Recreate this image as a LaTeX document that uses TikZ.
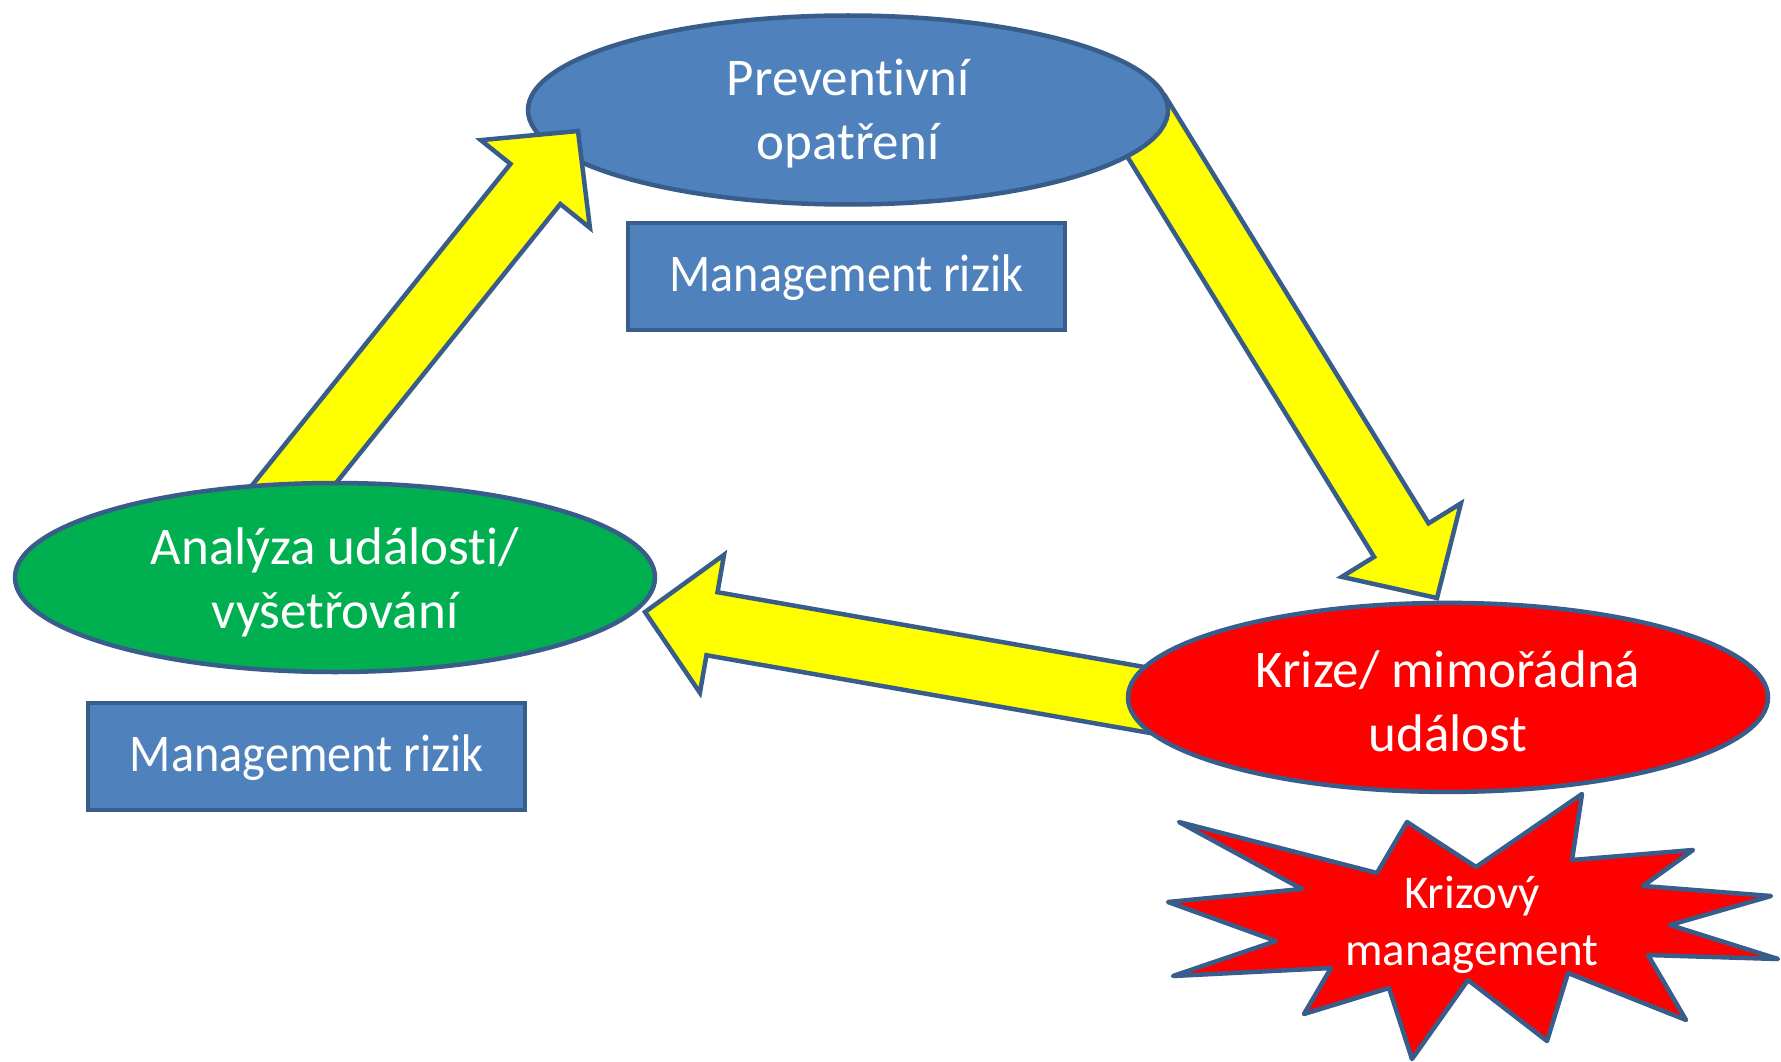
\documentclass[tikz,border=0pt]{standalone}
\usepackage{fontspec}
\setmainfont{Carlito}[Ligatures=NoCommon]
\newfontfamily\boxfont{Carlito}[Ligatures=NoCommon, FakeStretch=0.91]
\usetikzlibrary{calc,shapes.geometric}
\definecolor{ppblue}{HTML}{4F81BD}
\definecolor{ppline}{HTML}{385D8A}
\definecolor{ppgreen}{HTML}{00B050}
\definecolor{ppred}{HTML}{FF0000}
\definecolor{ppyellow}{HTML}{FFFF00}
\newcommand\myblockarrow[3]{%
  \coordinate (#3h) at ($(#2)!68pt!(#1)$);
  \draw[yarrowstyle] ($(#1)!32pt!90:(#2)$) -- ($(#3h)!32pt!90:(#2)$) -- ($(#3h)!70pt!90:(#2)$) -- (#2)
    -- ($(#3h)!70pt!-90:(#2)$) -- ($(#3h)!32pt!-90:(#2)$) -- ($(#1)!32pt!-90:(#2)$) -- cycle;}
\begin{document}
\begin{tikzpicture}[x=1pt,y=-1pt,
  outl/.style={draw=ppline, line width=4.5pt},
  yarrowstyle/.style={outl, fill=ppyellow, line join=miter},
  oval/.style={ellipse, outl, inner sep=0pt, minimum width=640pt, minimum height=189pt},
  ovaltext/.style={text=white, align=center, inner sep=0pt, font=\fontsize{53}{64}\selectfont},
  rbox/.style={rectangle, outl, fill=ppblue, inner sep=0pt, minimum width=437pt, minimum height=107pt,
     text=white, text height=34pt, text depth=4pt, font=\boxfont\fontsize{53}{60}\selectfont},
  starstyle/.style={outl, fill=ppred, line join=round},
  startext/.style={text=white, align=center, inner sep=0pt, font=\fontsize{47}{57.7}\selectfont}]
\useasboundingbox (0,0) rectangle (1781,1062);
\fill[white] (0,0) rectangle (1781,1062);
% arrow coordinates
\coordinate (t1) at (265.4,519.8);
\coordinate (p1) at (578,131);
\coordinate (t2) at (1138,113);
\coordinate (p2) at (1437,598);
\coordinate (t3) at (1210,711);
\coordinate (p3) at (645,612);
% layering order
\myblockarrow{t2}{p2}{a2}
\node[oval, fill=ppblue] (prev) at (848,110) {};
\node[ovaltext] (prevt) at (848,114) {Preventivní\\opatření};
\myblockarrow{t1}{p1}{a1}
\node[oval, fill=ppgreen] (anal) at (335,577.5) {};
\node[ovaltext] (analt) at (335,582) {Analýza události/\\vyšetřování};
\myblockarrow{t3}{p3}{a3}
\node[oval, fill=ppred] (krize) at (1448,697.4) {};
\node[ovaltext] (krizet) at (1448,701) {Krize/ mimořádná\\událost};
% boxes
\node[rbox] (mr1) at (846.3,276.3) {Management rizik};
\node[rbox] (mr2) at (306.7,756.5) {Management rizik};
% star
\draw[starstyle] (1179,822) -- (1377,873) -- (1407,822) -- (1476,867) -- (1582,794) -- (1572,860)
  -- (1693,850) -- (1643,886) -- (1771,896) -- (1670,925) -- (1778,959) -- (1648,955)
  -- (1686,1020) -- (1568,973) -- (1547,1041) -- (1468,980) -- (1412,1059) -- (1389,988)
  -- (1304,1014) -- (1331,968) -- (1173,976) -- (1276,941) -- (1168,902) -- (1302,889) -- cycle;
\node[startext] (kriz) at (1472,925) {Krizový\\management};
\end{tikzpicture}
\end{document}
